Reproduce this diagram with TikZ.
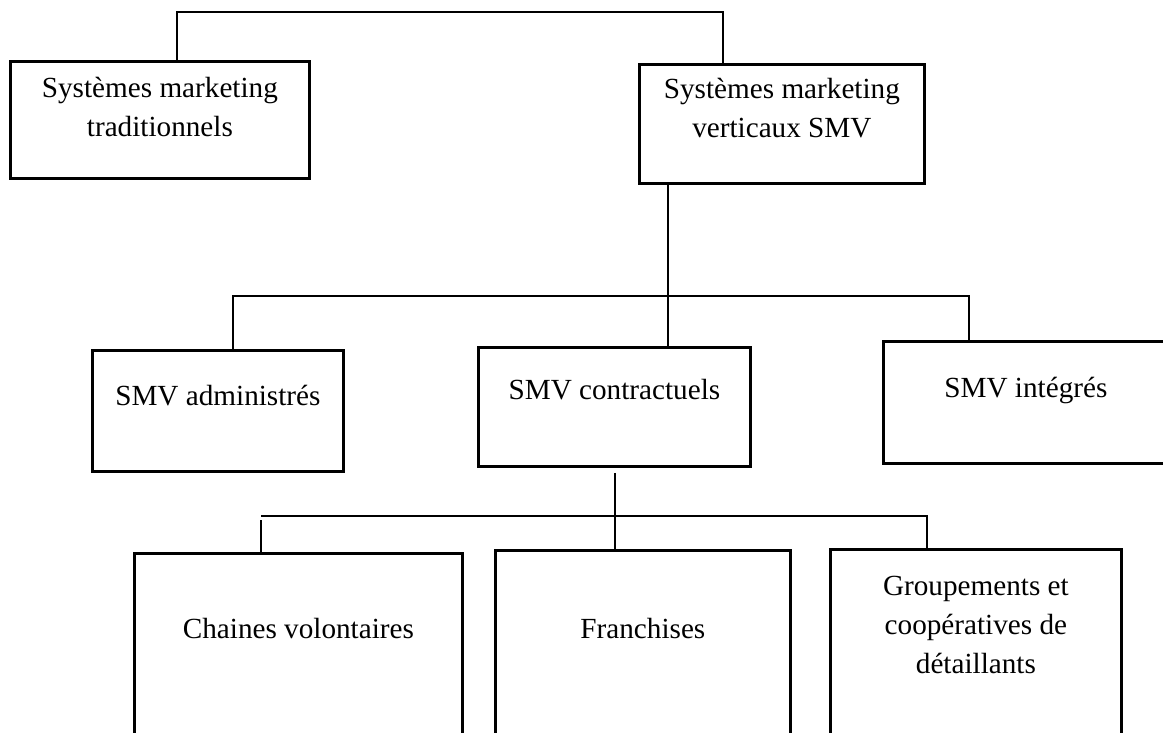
\documentclass[tikz,border=0pt]{standalone}
\usepackage{fontspec}
\setmainfont{Liberation Serif}
\begin{document}
\begin{tikzpicture}[x=1pt, y=-1pt,
  box/.style={draw, line width=2.8pt, anchor=north west, inner sep=0pt},
  conn/.style={line width=1.2pt},
  lbl/.style={font=\fontsize{29.2}{39}\selectfont, inner sep=0pt, anchor=base, align=center}]
  \useasboundingbox (0,0) rectangle (1163,733);
  \clip (0,0) rectangle (1163,733);

  % boxes (top-left corner, size)
  \node[box, minimum width=299pt, minimum height=117pt] (trad) at (9,60) {};
  \node[box, minimum width=285pt, minimum height=119pt] (smv) at (638,63) {};
  \node[box, minimum width=251pt, minimum height=121pt] (adm) at (91,349) {};
  \node[box, minimum width=272pt, minimum height=119pt] (con) at (477,346) {};
  \node[box, minimum width=285pt, minimum height=122pt] (int) at (882,340) {};
  \node[box, minimum width=328pt, minimum height=200pt] (cha) at (133,552) {};
  \node[box, minimum width=295pt, minimum height=200pt] (fra) at (494,549) {};
  \node[box, minimum width=291pt, minimum height=200pt] (grp) at (829,548) {};

  % labels (anchor base = baseline of the last line)
  \node[lbl] (ttrad) at ([yshift=-77pt]trad.north) {Systèmes marketing\\traditionnels};
  \node[lbl] (tsmv) at ([yshift=-75pt]smv.north) {Systèmes marketing\\verticaux SMV};
  \node[lbl] (tadm) at ([yshift=-56pt]adm.north) {SMV administrés};
  \node[lbl] (tcon) at ([yshift=-53pt]con.north) {SMV contractuels};
  \node[lbl] (tint) at ([yshift=-57pt]int.north) {SMV intégrés};
  \node[lbl] (tcha) at ([yshift=-86pt]cha.north) {Chaines volontaires};
  \node[lbl] (tfra) at ([yshift=-89pt]fra.north) {Franchises};
  \node[lbl] (tgrp) at ([yshift=-125pt]grp.north) {Groupements et\\coopératives de\\détaillants};

  % top level
  \draw[conn] (177,0 |- trad.north) -- (177,12) -- (723,12) -- (723,0 |- smv.north);
  % second level
  \draw[conn] (668,0 |- smv.south) -- (668,0 |- con.north);
  \draw[conn] (233,0 |- adm.north) -- (233,296) -- (969,296) -- (969,0 |- int.north);
  % third level
  \draw[conn, shorten <=5pt] (615,0 |- con.south) -- (615,0 |- fra.north);
  \draw[conn] (261,516) -- (927,516) -- (927,0 |- grp.north);
  \coordinate (chtop) at (261,520);
  \draw[conn] (chtop) -- (261,0 |- cha.north);
\end{tikzpicture}
\end{document}
